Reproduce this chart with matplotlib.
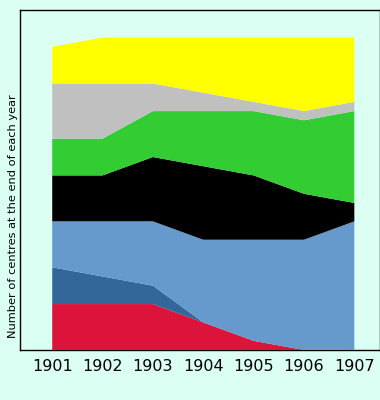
import matplotlib
matplotlib.use('Agg')
import matplotlib.pyplot as plt

# number of centres per category at the end of each year
years = [1901, 1902, 1903, 1904, 1905, 1906, 1907]
red = [5, 5, 5, 3, 1, 0, 0]
dark_blue = [4, 3, 2, 0, 0, 0, 0]
light_blue = [5, 6, 7, 9, 11, 12, 14]
black = [5, 5, 7, 8, 7, 5, 2]
green = [4, 4, 5, 6, 7, 8, 10]
grey = [6, 6, 3, 2, 1, 1, 1]
yellow = [4, 5, 5, 6, 7, 8, 7]

series = [red, dark_blue, light_blue, black, green, grey, yellow]
colors = ['#dc143c', '#336699', '#6699cc', '#000000', '#33cc33', '#c0c0c0', '#ffff00']

bg = '#dcfff4'
fig = plt.figure(figsize=(3.8, 4.0), dpi=100, facecolor=bg)
ax = fig.add_axes([20 / 380, 50 / 400, 359.5 / 380, 340 / 400])
ax.set_facecolor(bg)

ax.stackplot(years, *series, colors=colors, linewidth=0, zorder=3)

ax.set_xlim(1900.36, 1907.5)
ax.set_ylim(0, 37)
ax.set_xticks(years)
ax.set_xticklabels([str(y) for y in years], fontsize=11.5)
ax.set_yticks([])
ax.tick_params(axis='x', length=0, pad=6.5)
for s in ax.spines.values():
    s.set_linewidth(1)
    s.set_color('black')
    s.set_zorder(1)

fig.text(13 / 380, 1 - 216 / 400, 'Number of centres at the end of each year',
         rotation=90, ha='center', va='center', fontsize=8.2)

fig.savefig('out.png', dpi=100, facecolor=bg)
